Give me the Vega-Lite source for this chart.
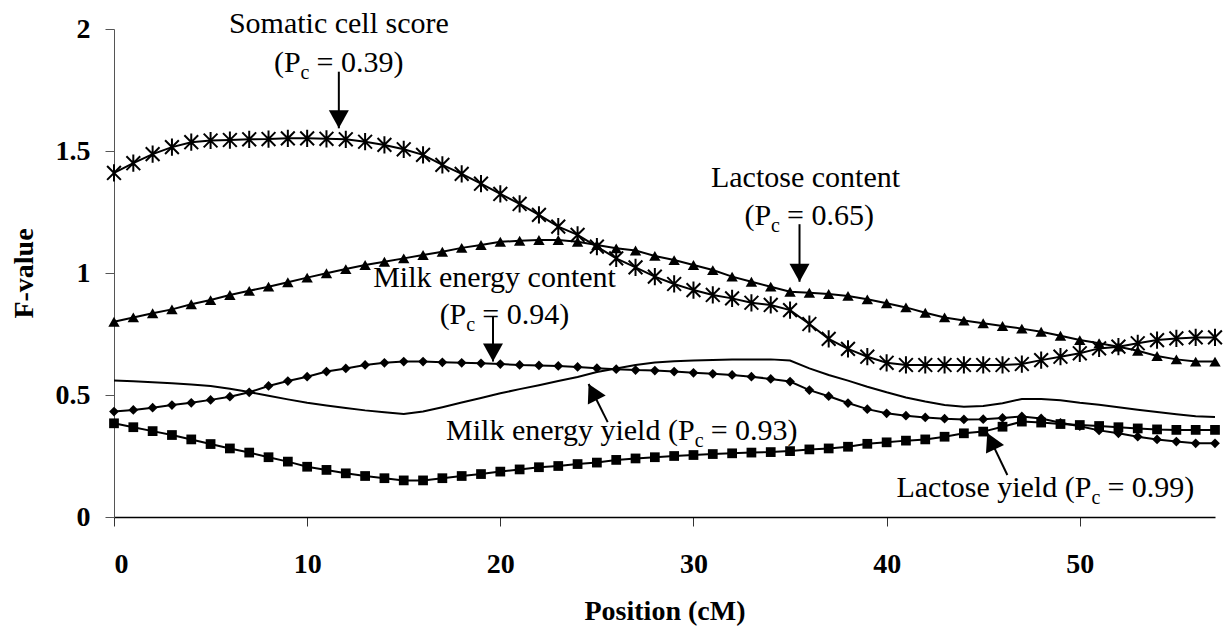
{
  "$schema": "https://vega.github.io/schema/vega-lite/v6.json",
  "width": 1101,
  "height": 488,
  "autosize": {"type": "none"},
  "padding": {"left": 114, "top": 29, "right": 13, "bottom": 115},
  "background": "white",
  "config": {"view": {"stroke": null}, "font": "Liberation Serif"},
  "datasets": {
    "series": [
      {"trait":"SCS","pos":0,"F":1.41},{"trait":"SCS","pos":1,"F":1.45},{"trait":"SCS","pos":2,"F":1.487},{"trait":"SCS","pos":3,"F":1.516},{"trait":"SCS","pos":4,"F":1.536},{"trait":"SCS","pos":5,"F":1.543},{"trait":"SCS","pos":6,"F":1.545},{"trait":"SCS","pos":7,"F":1.548},{"trait":"SCS","pos":8,"F":1.549},{"trait":"SCS","pos":9,"F":1.552},{"trait":"SCS","pos":10,"F":1.552},{"trait":"SCS","pos":11,"F":1.55},{"trait":"SCS","pos":12,"F":1.548},{"trait":"SCS","pos":13,"F":1.538},{"trait":"SCS","pos":14,"F":1.525},{"trait":"SCS","pos":15,"F":1.507},{"trait":"SCS","pos":16,"F":1.484},{"trait":"SCS","pos":17,"F":1.443},{"trait":"SCS","pos":18,"F":1.406},{"trait":"SCS","pos":19,"F":1.366},{"trait":"SCS","pos":20,"F":1.324},{"trait":"SCS","pos":21,"F":1.283},{"trait":"SCS","pos":22,"F":1.238},{"trait":"SCS","pos":23,"F":1.19},{"trait":"SCS","pos":24,"F":1.156},{"trait":"SCS","pos":25,"F":1.108},{"trait":"SCS","pos":26,"F":1.06},{"trait":"SCS","pos":27,"F":1.023},{"trait":"SCS","pos":28,"F":0.985},{"trait":"SCS","pos":29,"F":0.955},{"trait":"SCS","pos":30,"F":0.93},{"trait":"SCS","pos":31,"F":0.91},{"trait":"SCS","pos":32,"F":0.896},{"trait":"SCS","pos":33,"F":0.878},{"trait":"SCS","pos":34,"F":0.869},{"trait":"SCS","pos":35,"F":0.848},{"trait":"SCS","pos":36,"F":0.791},{"trait":"SCS","pos":37,"F":0.73},{"trait":"SCS","pos":38,"F":0.689},{"trait":"SCS","pos":39,"F":0.657},{"trait":"SCS","pos":40,"F":0.632},{"trait":"SCS","pos":41,"F":0.623},{"trait":"SCS","pos":42,"F":0.623},{"trait":"SCS","pos":43,"F":0.623},{"trait":"SCS","pos":44,"F":0.623},{"trait":"SCS","pos":45,"F":0.623},{"trait":"SCS","pos":46,"F":0.623},{"trait":"SCS","pos":47,"F":0.627},{"trait":"SCS","pos":48,"F":0.643},{"trait":"SCS","pos":49,"F":0.657},{"trait":"SCS","pos":50,"F":0.671},{"trait":"SCS","pos":51,"F":0.691},{"trait":"SCS","pos":52,"F":0.698},{"trait":"SCS","pos":53,"F":0.712},{"trait":"SCS","pos":54,"F":0.725},{"trait":"SCS","pos":55,"F":0.732},{"trait":"SCS","pos":56,"F":0.736},{"trait":"SCS","pos":57,"F":0.736},
      {"trait":"LC","pos":0,"F":0.8},{"trait":"LC","pos":1,"F":0.818},{"trait":"LC","pos":2,"F":0.835},{"trait":"LC","pos":3,"F":0.851},{"trait":"LC","pos":4,"F":0.872},{"trait":"LC","pos":5,"F":0.889},{"trait":"LC","pos":6,"F":0.91},{"trait":"LC","pos":7,"F":0.927},{"trait":"LC","pos":8,"F":0.944},{"trait":"LC","pos":9,"F":0.962},{"trait":"LC","pos":10,"F":0.981},{"trait":"LC","pos":11,"F":0.999},{"trait":"LC","pos":12,"F":1.016},{"trait":"LC","pos":13,"F":1.033},{"trait":"LC","pos":14,"F":1.046},{"trait":"LC","pos":15,"F":1.06},{"trait":"LC","pos":16,"F":1.074},{"trait":"LC","pos":17,"F":1.087},{"trait":"LC","pos":18,"F":1.103},{"trait":"LC","pos":19,"F":1.115},{"trait":"LC","pos":20,"F":1.128},{"trait":"LC","pos":21,"F":1.132},{"trait":"LC","pos":22,"F":1.135},{"trait":"LC","pos":23,"F":1.135},{"trait":"LC","pos":24,"F":1.128},{"trait":"LC","pos":25,"F":1.115},{"trait":"LC","pos":26,"F":1.101},{"trait":"LC","pos":27,"F":1.092},{"trait":"LC","pos":28,"F":1.07},{"trait":"LC","pos":29,"F":1.053},{"trait":"LC","pos":30,"F":1.033},{"trait":"LC","pos":31,"F":1.012},{"trait":"LC","pos":32,"F":0.985},{"trait":"LC","pos":33,"F":0.964},{"trait":"LC","pos":34,"F":0.944},{"trait":"LC","pos":35,"F":0.923},{"trait":"LC","pos":36,"F":0.919},{"trait":"LC","pos":37,"F":0.914},{"trait":"LC","pos":38,"F":0.906},{"trait":"LC","pos":39,"F":0.892},{"trait":"LC","pos":40,"F":0.876},{"trait":"LC","pos":41,"F":0.859},{"trait":"LC","pos":42,"F":0.837},{"trait":"LC","pos":43,"F":0.818},{"trait":"LC","pos":44,"F":0.805},{"trait":"LC","pos":45,"F":0.794},{"trait":"LC","pos":46,"F":0.783},{"trait":"LC","pos":47,"F":0.772},{"trait":"LC","pos":48,"F":0.759},{"trait":"LC","pos":49,"F":0.743},{"trait":"LC","pos":50,"F":0.725},{"trait":"LC","pos":51,"F":0.712},{"trait":"LC","pos":52,"F":0.698},{"trait":"LC","pos":53,"F":0.681},{"trait":"LC","pos":54,"F":0.66},{"trait":"LC","pos":55,"F":0.646},{"trait":"LC","pos":56,"F":0.637},{"trait":"LC","pos":57,"F":0.637},
      {"trait":"MEC","pos":0,"F":0.432},{"trait":"MEC","pos":1,"F":0.439},{"trait":"MEC","pos":2,"F":0.448},{"trait":"MEC","pos":3,"F":0.459},{"trait":"MEC","pos":4,"F":0.468},{"trait":"MEC","pos":5,"F":0.48},{"trait":"MEC","pos":6,"F":0.493},{"trait":"MEC","pos":7,"F":0.511},{"trait":"MEC","pos":8,"F":0.537},{"trait":"MEC","pos":9,"F":0.557},{"trait":"MEC","pos":10,"F":0.575},{"trait":"MEC","pos":11,"F":0.596},{"trait":"MEC","pos":12,"F":0.609},{"trait":"MEC","pos":13,"F":0.623},{"trait":"MEC","pos":14,"F":0.632},{"trait":"MEC","pos":15,"F":0.637},{"trait":"MEC","pos":16,"F":0.637},{"trait":"MEC","pos":17,"F":0.634},{"trait":"MEC","pos":18,"F":0.632},{"trait":"MEC","pos":19,"F":0.63},{"trait":"MEC","pos":20,"F":0.627},{"trait":"MEC","pos":21,"F":0.623},{"trait":"MEC","pos":22,"F":0.621},{"trait":"MEC","pos":23,"F":0.619},{"trait":"MEC","pos":24,"F":0.615},{"trait":"MEC","pos":25,"F":0.61},{"trait":"MEC","pos":26,"F":0.606},{"trait":"MEC","pos":27,"F":0.602},{"trait":"MEC","pos":28,"F":0.6},{"trait":"MEC","pos":29,"F":0.596},{"trait":"MEC","pos":30,"F":0.591},{"trait":"MEC","pos":31,"F":0.587},{"trait":"MEC","pos":32,"F":0.582},{"trait":"MEC","pos":33,"F":0.575},{"trait":"MEC","pos":34,"F":0.566},{"trait":"MEC","pos":35,"F":0.555},{"trait":"MEC","pos":36,"F":0.52},{"trait":"MEC","pos":37,"F":0.495},{"trait":"MEC","pos":38,"F":0.467},{"trait":"MEC","pos":39,"F":0.442},{"trait":"MEC","pos":40,"F":0.425},{"trait":"MEC","pos":41,"F":0.415},{"trait":"MEC","pos":42,"F":0.408},{"trait":"MEC","pos":43,"F":0.403},{"trait":"MEC","pos":44,"F":0.4},{"trait":"MEC","pos":45,"F":0.401},{"trait":"MEC","pos":46,"F":0.406},{"trait":"MEC","pos":47,"F":0.412},{"trait":"MEC","pos":48,"F":0.404},{"trait":"MEC","pos":49,"F":0.386},{"trait":"MEC","pos":50,"F":0.372},{"trait":"MEC","pos":51,"F":0.355},{"trait":"MEC","pos":52,"F":0.343},{"trait":"MEC","pos":53,"F":0.329},{"trait":"MEC","pos":54,"F":0.318},{"trait":"MEC","pos":55,"F":0.309},{"trait":"MEC","pos":56,"F":0.302},{"trait":"MEC","pos":57,"F":0.302},
      {"trait":"MEY","pos":0,"F":0.559},{"trait":"MEY","pos":1,"F":0.556},{"trait":"MEY","pos":2,"F":0.552},{"trait":"MEY","pos":3,"F":0.548},{"trait":"MEY","pos":4,"F":0.543},{"trait":"MEY","pos":5,"F":0.537},{"trait":"MEY","pos":6,"F":0.526},{"trait":"MEY","pos":7,"F":0.512},{"trait":"MEY","pos":8,"F":0.497},{"trait":"MEY","pos":9,"F":0.482},{"trait":"MEY","pos":10,"F":0.468},{"trait":"MEY","pos":11,"F":0.457},{"trait":"MEY","pos":12,"F":0.447},{"trait":"MEY","pos":13,"F":0.437},{"trait":"MEY","pos":14,"F":0.429},{"trait":"MEY","pos":15,"F":0.422},{"trait":"MEY","pos":16,"F":0.432},{"trait":"MEY","pos":17,"F":0.45},{"trait":"MEY","pos":18,"F":0.469},{"trait":"MEY","pos":19,"F":0.488},{"trait":"MEY","pos":20,"F":0.507},{"trait":"MEY","pos":21,"F":0.524},{"trait":"MEY","pos":22,"F":0.54},{"trait":"MEY","pos":23,"F":0.557},{"trait":"MEY","pos":24,"F":0.574},{"trait":"MEY","pos":25,"F":0.594},{"trait":"MEY","pos":26,"F":0.609},{"trait":"MEY","pos":27,"F":0.623},{"trait":"MEY","pos":28,"F":0.633},{"trait":"MEY","pos":29,"F":0.638},{"trait":"MEY","pos":30,"F":0.641},{"trait":"MEY","pos":31,"F":0.643},{"trait":"MEY","pos":32,"F":0.645},{"trait":"MEY","pos":33,"F":0.646},{"trait":"MEY","pos":34,"F":0.646},{"trait":"MEY","pos":35,"F":0.641},{"trait":"MEY","pos":36,"F":0.609},{"trait":"MEY","pos":37,"F":0.582},{"trait":"MEY","pos":38,"F":0.559},{"trait":"MEY","pos":39,"F":0.534},{"trait":"MEY","pos":40,"F":0.511},{"trait":"MEY","pos":41,"F":0.49},{"trait":"MEY","pos":42,"F":0.473},{"trait":"MEY","pos":43,"F":0.459},{"trait":"MEY","pos":44,"F":0.452},{"trait":"MEY","pos":45,"F":0.455},{"trait":"MEY","pos":46,"F":0.466},{"trait":"MEY","pos":47,"F":0.484},{"trait":"MEY","pos":48,"F":0.484},{"trait":"MEY","pos":49,"F":0.478},{"trait":"MEY","pos":50,"F":0.468},{"trait":"MEY","pos":51,"F":0.46},{"trait":"MEY","pos":52,"F":0.45},{"trait":"MEY","pos":53,"F":0.44},{"trait":"MEY","pos":54,"F":0.43},{"trait":"MEY","pos":55,"F":0.421},{"trait":"MEY","pos":56,"F":0.413},{"trait":"MEY","pos":57,"F":0.41},
      {"trait":"LY","pos":0,"F":0.384},{"trait":"LY","pos":1,"F":0.368},{"trait":"LY","pos":2,"F":0.352},{"trait":"LY","pos":3,"F":0.336},{"trait":"LY","pos":4,"F":0.318},{"trait":"LY","pos":5,"F":0.299},{"trait":"LY","pos":6,"F":0.281},{"trait":"LY","pos":7,"F":0.264},{"trait":"LY","pos":8,"F":0.245},{"trait":"LY","pos":9,"F":0.227},{"trait":"LY","pos":10,"F":0.206},{"trait":"LY","pos":11,"F":0.193},{"trait":"LY","pos":12,"F":0.179},{"trait":"LY","pos":13,"F":0.168},{"trait":"LY","pos":14,"F":0.159},{"trait":"LY","pos":15,"F":0.15},{"trait":"LY","pos":16,"F":0.15},{"trait":"LY","pos":17,"F":0.159},{"trait":"LY","pos":18,"F":0.168},{"trait":"LY","pos":19,"F":0.176},{"trait":"LY","pos":20,"F":0.186},{"trait":"LY","pos":21,"F":0.195},{"trait":"LY","pos":22,"F":0.204},{"trait":"LY","pos":23,"F":0.209},{"trait":"LY","pos":24,"F":0.217},{"trait":"LY","pos":25,"F":0.223},{"trait":"LY","pos":26,"F":0.234},{"trait":"LY","pos":27,"F":0.24},{"trait":"LY","pos":28,"F":0.245},{"trait":"LY","pos":29,"F":0.25},{"trait":"LY","pos":30,"F":0.254},{"trait":"LY","pos":31,"F":0.258},{"trait":"LY","pos":32,"F":0.261},{"trait":"LY","pos":33,"F":0.264},{"trait":"LY","pos":34,"F":0.266},{"trait":"LY","pos":35,"F":0.27},{"trait":"LY","pos":36,"F":0.277},{"trait":"LY","pos":37,"F":0.281},{"trait":"LY","pos":38,"F":0.288},{"trait":"LY","pos":39,"F":0.3},{"trait":"LY","pos":40,"F":0.306},{"trait":"LY","pos":41,"F":0.313},{"trait":"LY","pos":42,"F":0.318},{"trait":"LY","pos":43,"F":0.329},{"trait":"LY","pos":44,"F":0.343},{"trait":"LY","pos":45,"F":0.35},{"trait":"LY","pos":46,"F":0.37},{"trait":"LY","pos":47,"F":0.391},{"trait":"LY","pos":48,"F":0.387},{"trait":"LY","pos":49,"F":0.381},{"trait":"LY","pos":50,"F":0.377},{"trait":"LY","pos":51,"F":0.373},{"trait":"LY","pos":52,"F":0.368},{"trait":"LY","pos":53,"F":0.363},{"trait":"LY","pos":54,"F":0.359},{"trait":"LY","pos":55,"F":0.357},{"trait":"LY","pos":56,"F":0.357},{"trait":"LY","pos":57,"F":0.357}
    ],
    "titles": [
      {"text": "Somatic cell score", "pos": 11.64, "F": 1.982},
      {"text": "Lactose content", "pos": 35.8, "F": 1.354},
      {"text": "Milk energy content", "pos": 19.7, "F": 0.943}
    ],
    "plabels": [
      {"key": "SCS", "pre": "(P", "sub": "c", "post": "= 0.39)", "pos": 9.66, "F": 1.825},
      {"key": "LC", "pre": "(P", "sub": "c", "post": "= 0.65)", "pos": 34.02, "F": 1.196},
      {"key": "MEC", "pre": "(P", "sub": "c", "post": "= 0.94)", "pos": 18.24, "F": 0.789},
      {"key": "MEY", "pre": "Milk energy yield (P", "sub": "c", "post": "= 0.93)", "pos": 30.06, "F": 0.314},
      {"key": "LY", "pre": "Lactose yield (P", "sub": "c", "post": "= 0.99)", "pos": 50.6, "F": 0.083}
    ],
    "arrows": [
      {"key": "SCS", "pos": 11.64, "F": 1.825, "pos2": 11.64, "F2": 1.593},
      {"key": "LC", "pos": 35.49, "F": 1.2, "pos2": 35.49, "F2": 0.964},
      {"key": "MEC", "pos": 19.62, "F": 0.821, "pos2": 19.62, "F2": 0.637},
      {"key": "MEY", "pos": 25.56, "F": 0.389, "pos2": 24.57, "F2": 0.545},
      {"key": "LY", "pos": 46.25, "F": 0.172, "pos2": 45.21, "F2": 0.344}
    ]
  },
  "layer": [
    {
      "data": {"name": "series"},
      "mark": {"type": "line", "color": "black", "strokeWidth": 2},
      "encoding": {
        "x": {"field": "pos", "type": "quantitative", "title": "Position (cM)", "scale": {"domain": [0, 57], "nice": false, "zero": false},
          "axis": {"title": "Position (cM)", "values": [0, 10, 20, 30, 40, 50], "grid": false,
            "domainColor": "black", "domainWidth": 1.5, "tickColor": "#333333", "tickSize": 9, "tickWidth": 1,
            "labelFont": "Liberation Serif", "labelFontSize": 28, "labelFontWeight": "bold", "labelColor": "black", "labelPadding": 24,
            "titleFont": "Liberation Serif", "titleFontSize": 28, "titleFontWeight": "bold", "titleColor": "black", "titlePadding": 19}},
        "y": {"field": "F", "type": "quantitative", "title": "F-value", "scale": {"domain": [0, 2], "nice": false},
          "axis": {"title": "F-value", "values": [0, 0.5, 1, 1.5, 2], "format": ".1~f", "grid": false,
            "domainColor": "#555555", "domainWidth": 1, "tickColor": "#555555", "tickSize": 9, "tickWidth": 1,
            "labelFont": "Liberation Serif", "labelFontSize": 28, "labelFontWeight": "bold", "labelColor": "black", "labelPadding": 15,
            "titleFont": "Liberation Serif", "titleFontSize": 28, "titleFontWeight": "bold", "titleColor": "black", "titlePadding": 17}},
        "detail": {"field": "trait", "type": "nominal"}
      }
    },
    {
      "data": {"name": "series"},
      "transform": [{"filter": "datum.trait === 'SCS'"}],
      "mark": {"type": "point", "shape": "M-1,-1L1,1M-1,1L1,-1M0,-1.25L0,1.25", "filled": false, "stroke": "black", "strokeWidth": 2, "size": 190, "opacity": 1},
      "encoding": {
        "x": {"field": "pos", "type": "quantitative", "title": "Position (cM)"},
        "y": {"field": "F", "type": "quantitative", "title": "F-value"}
      }
    },
    {
      "data": {"name": "series"},
      "transform": [{"filter": "datum.trait === 'LC'"}],
      "mark": {"type": "point", "shape": "triangle-up", "filled": true, "color": "black", "size": 130, "opacity": 1},
      "encoding": {
        "x": {"field": "pos", "type": "quantitative", "title": "Position (cM)"},
        "y": {"field": "F", "type": "quantitative", "title": "F-value"}
      }
    },
    {
      "data": {"name": "series"},
      "transform": [{"filter": "datum.trait === 'MEC'"}],
      "mark": {"type": "point", "shape": "diamond", "filled": true, "color": "black", "size": 95, "opacity": 1},
      "encoding": {
        "x": {"field": "pos", "type": "quantitative", "title": "Position (cM)"},
        "y": {"field": "F", "type": "quantitative", "title": "F-value"}
      }
    },
    {
      "data": {"name": "series"},
      "transform": [{"filter": "datum.trait === 'LY'"}],
      "mark": {"type": "point", "shape": "square", "filled": true, "color": "black", "size": 95, "opacity": 1},
      "encoding": {
        "x": {"field": "pos", "type": "quantitative", "title": "Position (cM)"},
        "y": {"field": "F", "type": "quantitative", "title": "F-value"}
      }
    },
    {
      "data": {"name": "arrows"},
      "mark": {"type": "rule", "color": "black", "strokeWidth": 2},
      "encoding": {
        "x": {"field": "pos", "type": "quantitative", "title": "Position (cM)"},
        "y": {"field": "F", "type": "quantitative", "title": "F-value"},
        "x2": {"field": "pos2"},
        "y2": {"field": "F2"}
      }
    },
    {
      "data": {"name": "arrows"},
      "transform": [{"filter": "datum.key === 'SCS' || datum.key === 'LC' || datum.key === 'MEC'"}],
      "mark": {"type": "point", "shape": "M0,0L-1,-1.8L1,-1.8Z", "filled": true, "color": "black", "size": 400, "opacity": 1, "angle": 0},
      "encoding": {
        "x": {"field": "pos2", "type": "quantitative", "title": "Position (cM)"},
        "y": {"field": "F2", "type": "quantitative", "title": "F-value"}
      }
    },
    {
      "data": {"name": "arrows"},
      "transform": [{"filter": "datum.key === 'MEY'"}],
      "mark": {"type": "point", "shape": "M0,0L-1,-1.8L1,-1.8Z", "filled": true, "color": "black", "size": 400, "opacity": 1, "angle": 153},
      "encoding": {
        "x": {"field": "pos2", "type": "quantitative", "title": "Position (cM)"},
        "y": {"field": "F2", "type": "quantitative", "title": "F-value"}
      }
    },
    {
      "data": {"name": "arrows"},
      "transform": [{"filter": "datum.key === 'LY'"}],
      "mark": {"type": "point", "shape": "M0,0L-1,-1.8L1,-1.8Z", "filled": true, "color": "black", "size": 400, "opacity": 1, "angle": 154.5},
      "encoding": {
        "x": {"field": "pos2", "type": "quantitative", "title": "Position (cM)"},
        "y": {"field": "F2", "type": "quantitative", "title": "F-value"}
      }
    },
    {
      "data": {"name": "titles"},
      "mark": {"type": "text", "font": "Liberation Serif", "fontSize": 30, "color": "black", "align": "center", "baseline": "alphabetic"},
      "encoding": {
        "x": {"field": "pos", "type": "quantitative", "title": "Position (cM)"},
        "y": {"field": "F", "type": "quantitative", "title": "F-value"},
        "text": {"field": "text"}
      }
    },
    {
      "data": {"name": "plabels"},
      "mark": {"type": "text", "font": "Liberation Serif", "fontSize": 30, "color": "black", "align": "right", "baseline": "alphabetic"},
      "encoding": {
        "x": {"field": "pos", "type": "quantitative", "title": "Position (cM)"},
        "y": {"field": "F", "type": "quantitative", "title": "F-value"},
        "text": {"field": "pre"}
      }
    },
    {
      "data": {"name": "plabels"},
      "mark": {"type": "text", "font": "Liberation Serif", "fontSize": 20, "color": "black", "align": "left", "baseline": "alphabetic", "dy": 7},
      "encoding": {
        "x": {"field": "pos", "type": "quantitative", "title": "Position (cM)"},
        "y": {"field": "F", "type": "quantitative", "title": "F-value"},
        "text": {"field": "sub"}
      }
    },
    {
      "data": {"name": "plabels"},
      "mark": {"type": "text", "font": "Liberation Serif", "fontSize": 30, "color": "black", "align": "left", "baseline": "alphabetic", "dx": 16},
      "encoding": {
        "x": {"field": "pos", "type": "quantitative", "title": "Position (cM)"},
        "y": {"field": "F", "type": "quantitative", "title": "F-value"},
        "text": {"field": "post"}
      }
    }
  ]
}
